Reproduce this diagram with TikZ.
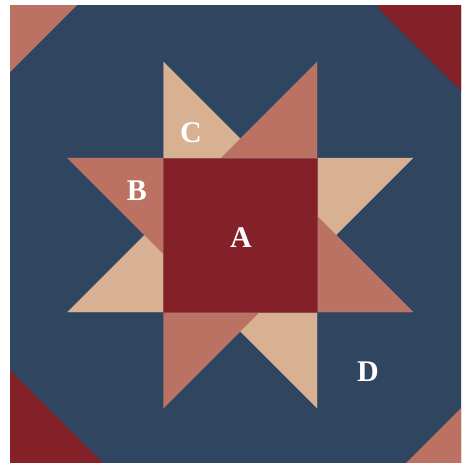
\documentclass[tikz,border=0pt]{standalone}
\usepackage{fontspec}
\setmainfont{Liberation Serif}
\definecolor{navy}{HTML}{2F4560}
\definecolor{wine}{HTML}{832028}
\definecolor{salmon}{HTML}{BC7262}
\definecolor{tan}{HTML}{D7B191}
\tikzset{
  piece/.style={line width=0.3pt, draw=#1!80!gray!90!white, fill=#1},
  lbl/.style={text=white, font=\fontsize{30}{30}\selectfont\bfseries, inner sep=0pt}
}
\begin{document}
\begin{tikzpicture}[x=1pt,y=-1pt]
\useasboundingbox (0,0) rectangle (461,463);
\clip (0,0) rectangle (461,463);
\fill[white] (0,0) rectangle (461,463);
% background block
\fill[navy] (10,5) rectangle (470,465);
% corners
\fill[salmon] (10,5) -- (77,5) -- (10,72) -- cycle;
\fill[wine] (375,5) -- (470,5) -- (470,100) -- cycle;
\fill[wine] (10,370) -- (10,465) -- (105,465) -- cycle;
\fill[salmon] (470,399) -- (470,465) -- (404,465) -- cycle;
% tan star points
\path[piece=tan] (163.5,62) -- (163.5,158) -- (259.5,158) -- cycle;
\path[piece=tan] (67.5,312) -- (163.5,312) -- (163.5,216) -- cycle;
\path[piece=tan] (413,158) -- (317,158) -- (317,254) -- cycle;
\path[piece=tan] (317,408) -- (317,312) -- (221,312) -- cycle;
% salmon star points
\path[piece=salmon] (317,62) -- (317,158) -- (221,158) -- cycle;
\path[piece=salmon] (67.5,158) -- (163.5,158) -- (163.5,254) -- cycle;
\path[piece=salmon] (413,312) -- (317,312) -- (317,216) -- cycle;
\path[piece=salmon] (163.5,408) -- (163.5,312) -- (259.5,312) -- cycle;
% centre square
\path[piece=wine] (163.5,158) rectangle (317,312);
% labels
\node[lbl] (A) at (241,238) {A};
\node[lbl] (B) at (137,191) {B};
\node[lbl] (C) at (191,133) {C};
\node[lbl] (D) at (368,372) {D};
\end{tikzpicture}
\end{document}
